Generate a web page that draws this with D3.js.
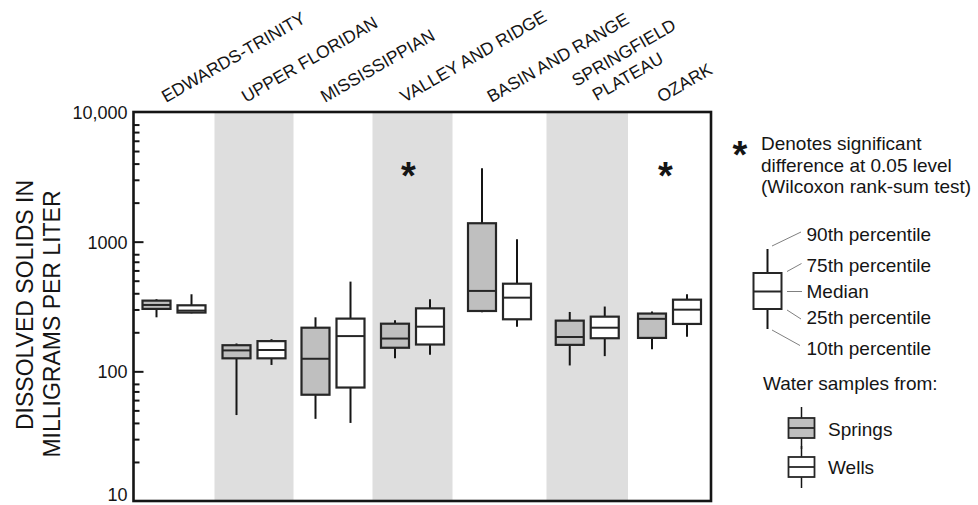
<!DOCTYPE html>
<html>
<head>
<meta charset="utf-8">
<script src="https://cdn.jsdelivr.net/npm/d3@7"></script>
<style>
  body { margin: 0; background: #fff; }
  svg { display: block; }
  text { font-family: "Liberation Sans", Arial, Helvetica, sans-serif; fill: #151515; }
</style>
</head>
<body>
<svg id="chart" width="978" height="505"></svg>
<script>
// Aquifer groups along the x axis (multi-line names split into lines)
const categories = ["EDWARDS-TRINITY", "UPPER FLORIDAN", "MISSISSIPPIAN", "VALLEY AND RIDGE",
                    "BASIN AND RANGE", "SPRINGFIELD PLATEAU", "OZARK"];
const categoryLines = [["EDWARDS-TRINITY"], ["UPPER FLORIDAN"], ["MISSISSIPPIAN"], ["VALLEY AND RIDGE"],
                       ["BASIN AND RANGE"], ["SPRINGFIELD", "PLATEAU"], ["OZARK"]];

// Dissolved solids, mg/L — springs
const springsP10 = [261, 46, 43, 126, 285, 111, 148];
const springsP25 = [303, 126, 66, 152, 292, 160, 181];
const springsMed = [325, 145, 125, 179, 417, 184, 254];
const springsP75 = [351, 159, 217, 233, 1387, 246, 279];
const springsP90 = [360, 164, 261, 248, 3680, 287, 289];

// Dissolved solids, mg/L — wells
const wellsP10 = [280, 112, 40, 134, 221, 131, 185];
const wellsP25 = [284, 126, 75, 161, 252, 180, 232];
const wellsMed = [294, 146, 187, 221, 370, 217, 299];
const wellsP75 = [323, 171, 255, 306, 474, 264, 357];
const wellsP90 = [393, 177, 492, 360, 1044, 316, 393];

// Wilcoxon rank-sum significance at the 0.05 level
const significant = [false, false, false, true, false, false, true];

// Log axis
const yTickValues = [10, 100, 1000, 10000];
const yTickLabels = ["10", "100", "1000", "10,000"];
const minorMultipliers = [2, 3, 4, 5, 6, 7, 8];

const svg = d3.select("#chart");
const plot = { left: 133.5, right: 711, top: 112, bottom: 501 };
const ink = "#151515";

// Column layout: relative column widths (Basin and Range column is drawn wider)
const columnWeights = [81, 79, 79, 80, 94, 81.5, 83];
const cum = [0];
columnWeights.forEach(w => cum.push(cum[cum.length - 1] + w));
const xEdge = d3.scaleLinear().domain([0, cum[cum.length - 1]]).range([plot.left, plot.right]);
const colStart = i => xEdge(cum[i]);
const colWidth = i => xEdge(cum[i + 1]) - xEdge(cum[i]);
const colCenter = i => colStart(i) + colWidth(i) / 2;

const y = d3.scaleLog().domain([10, 10000]).range([plot.bottom, plot.top]);
const boxW = 28, boxOff = 17.5;

// alternating shaded columns
svg.append("g").selectAll("rect")
  .data(categories.map((c, i) => i).filter(i => i % 2 === 1))
  .join("rect")
  .attr("x", i => colStart(i)).attr("width", i => colWidth(i))
  .attr("y", plot.top).attr("height", plot.bottom - plot.top)
  .attr("fill", "#dedede");

// minor ticks (inside)
const minorVals = [];
[10, 100, 1000].forEach(dec => minorMultipliers.forEach(m => minorVals.push(dec * m)));
const minorAxis = svg.append("g").attr("transform", `translate(${plot.left},0)`)
  .call(d3.axisRight(y).tickValues(minorVals).tickSize(6).tickFormat(""));
minorAxis.select(".domain").remove();
minorAxis.selectAll("line").attr("stroke", ink).attr("stroke-width", 2);

// major ticks (inside)
const majorAxis = svg.append("g").attr("transform", `translate(${plot.left},0)`)
  .call(d3.axisRight(y).tickValues([100, 1000]).tickSize(10).tickFormat(""));
majorAxis.select(".domain").remove();
majorAxis.selectAll("line").attr("stroke", ink).attr("stroke-width", 2);

// tick labels
const labelAxis = svg.append("g").attr("transform", `translate(${plot.left},0)`)
  .call(d3.axisLeft(y).tickValues(yTickValues).tickSize(0).tickPadding(6)
    .tickFormat(d => yTickLabels[yTickValues.indexOf(d)]));
labelAxis.select(".domain").remove();
labelAxis.selectAll("text")
  .attr("font-size", 18).attr("fill", ink)
  .attr("font-family", "'Liberation Sans', Arial, sans-serif")
  .attr("dy", d => d === 10 ? "-0.05em" : "0.36em");

// plot frame
svg.append("rect")
  .attr("x", plot.left).attr("y", plot.top)
  .attr("width", plot.right - plot.left).attr("height", plot.bottom - plot.top)
  .attr("fill", "none").attr("stroke", ink).attr("stroke-width", 2.6);

// box plots
const series = [
  { off: -boxOff, fill: "#bfbfbf", p10: springsP10, p25: springsP25, med: springsMed, p75: springsP75, p90: springsP90 },
  { off: boxOff, fill: "#ffffff", p10: wellsP10, p25: wellsP25, med: wellsMed, p75: wellsP75, p90: wellsP90 }
];
const boxes = svg.append("g");
series.forEach(s => {
  categories.forEach((c, i) => {
    const cx = colCenter(i) + s.off;
    const g = boxes.append("g");
    g.append("line").attr("x1", cx).attr("x2", cx)
      .attr("y1", y(s.p90[i])).attr("y2", y(s.p75[i]))
      .attr("stroke", ink).attr("stroke-width", 2);
    g.append("line").attr("x1", cx).attr("x2", cx)
      .attr("y1", y(s.p25[i])).attr("y2", y(s.p10[i]))
      .attr("stroke", ink).attr("stroke-width", 2);
    g.append("rect")
      .attr("x", cx - boxW / 2).attr("width", boxW)
      .attr("y", y(s.p75[i])).attr("height", y(s.p25[i]) - y(s.p75[i]))
      .attr("fill", s.fill).attr("stroke", "#262626").attr("stroke-width", 2.2);
    g.append("line").attr("x1", cx - boxW / 2).attr("x2", cx + boxW / 2)
      .attr("y1", y(s.med[i])).attr("y2", y(s.med[i]))
      .attr("stroke", "#262626").attr("stroke-width", 2);
  });
});

// significance markers
const astSize = 38;
svg.append("g").selectAll("text")
  .data(categories.map((c, i) => i).filter(i => significant[i]))
  .join("text")
  .attr("x", i => colCenter(i) - 4)
  .attr("y", 167.5 + astSize * 0.575)
  .attr("text-anchor", "middle")
  .attr("font-size", astSize).attr("font-weight", "bold")
  .text("*");

// category names, rotated
const labelAngle = -30;
categories.forEach((c, i) => {
  const lines = categoryLines[i];
  const n = lines.length;
  const g = svg.append("g")
    .attr("transform", `translate(${colCenter(i) - 8 - 3 * (n - 1)},${103 - 16 * (n - 1)}) rotate(${labelAngle})`);
  lines.forEach((ln, k) => {
    g.append("text")
      .attr("x", k * 10.6)
      .attr("y", k * 22.6)
      .attr("font-size", 17.5)
      .text(ln);
  });
});

// y-axis title
svg.append("text")
  .attr("transform", "translate(33,305) rotate(-90)")
  .attr("text-anchor", "middle").attr("font-size", 23)
  .text("DISSOLVED SOLIDS IN");
svg.append("text")
  .attr("transform", "translate(60,324) rotate(-90)")
  .attr("text-anchor", "middle").attr("font-size", 23)
  .text("MILLIGRAMS PER LITER");

// legend: significance note
const lg = svg.append("g");
lg.append("text").attr("x", 740).attr("y", 146 + astSize * 0.575)
  .attr("text-anchor", "middle").attr("font-size", astSize).attr("font-weight", "bold").text("*");
["Denotes significant", "difference at 0.05 level", "(Wilcoxon rank-sum test)"].forEach((t, k) => {
  lg.append("text").attr("x", 761).attr("y", 150 + k * 21.5).attr("font-size", 19).text(t);
});

// legend: box anatomy
const ex = { cx: 767.5, p90: 249, p75: 273, med: 291.5, p25: 309, p10: 329 };
lg.append("line").attr("x1", ex.cx).attr("x2", ex.cx).attr("y1", ex.p90).attr("y2", ex.p75)
  .attr("stroke", ink).attr("stroke-width", 2);
lg.append("line").attr("x1", ex.cx).attr("x2", ex.cx).attr("y1", ex.p25).attr("y2", ex.p10)
  .attr("stroke", ink).attr("stroke-width", 2);
lg.append("rect").attr("x", ex.cx - 14).attr("width", 28).attr("y", ex.p75).attr("height", ex.p25 - ex.p75)
  .attr("fill", "#fff").attr("stroke", "#262626").attr("stroke-width", 2);
lg.append("line").attr("x1", ex.cx - 14).attr("x2", ex.cx + 14).attr("y1", ex.med).attr("y2", ex.med)
  .attr("stroke", "#262626").attr("stroke-width", 2);

const anatomy = [
  { label: "90th percentile", from: [772, 246], to: [801, 232], ty: 241 },
  { label: "75th percentile", from: [787, 271.5], to: [801.5, 263.5], ty: 272 },
  { label: "Median", from: [787, 291.5], to: [802, 291.5], ty: 298 },
  { label: "25th percentile", from: [787, 310], to: [801, 319], ty: 324 },
  { label: "10th percentile", from: [772, 330], to: [800, 345.5], ty: 354.5 }
];
anatomy.forEach(a => {
  lg.append("line").attr("x1", a.from[0]).attr("y1", a.from[1]).attr("x2", a.to[0]).attr("y2", a.to[1])
    .attr("stroke", "#808080").attr("stroke-width", 1);
  lg.append("text").attr("x", 806.5).attr("y", a.ty).attr("font-size", 19).text(a.label);
});

// legend: sample source
lg.append("text").attr("x", 763).attr("y", 390).attr("font-size", 19).text("Water samples from:");
[{ label: "Springs", fill: "#bfbfbf", top: 418, ty: 435.5 },
 { label: "Wells", fill: "#ffffff", top: 457, ty: 474 }].forEach(s => {
  const cx = 801.5;
  lg.append("line").attr("x1", cx).attr("x2", cx).attr("y1", s.top - 11).attr("y2", s.top + 31)
    .attr("stroke", ink).attr("stroke-width", 1.5);
  lg.append("rect").attr("x", cx - 13).attr("width", 26).attr("y", s.top).attr("height", 20)
    .attr("fill", s.fill).attr("stroke", "#262626").attr("stroke-width", 1.8);
  lg.append("line").attr("x1", cx - 13).attr("x2", cx + 13).attr("y1", s.top + 10).attr("y2", s.top + 10)
    .attr("stroke", "#262626").attr("stroke-width", 1.8);
  lg.append("text").attr("x", 828).attr("y", s.ty).attr("font-size", 19).text(s.label);
});
</script>
</body>
</html>
